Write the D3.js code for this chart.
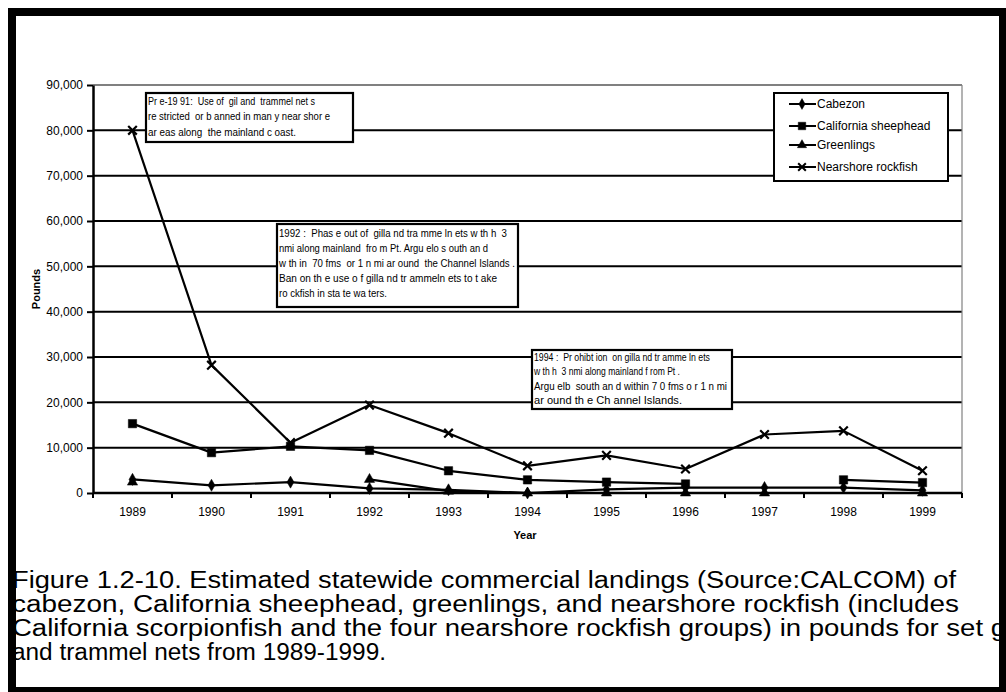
<!DOCTYPE html>
<html>
<head>
<meta charset="utf-8">
<script src="https://cdn.jsdelivr.net/npm/d3@7"></script>
<style>
  html, body { margin: 0; padding: 0; background: #fff; }
  svg { display: block; font-family: "Liberation Sans", Arial, sans-serif; }
</style>
</head>
<body>
<svg id="chart" width="1006" height="692"></svg>
<script>
// ---------------- DATA ----------------
const years = ["1989","1990","1991","1992","1993","1994","1995","1996","1997","1998","1999"];
const cabezon    = [3000, 1700, 2400, 1000, 700, 0, 800, 1200, 1200, 1200, 600];
const sheephead  = [15300, 8900, 10300, 9400, 4900, 2900, 2400, 2000, null, 2900, 2300];
const greenlings = [2400, null, null, 3000, 400, 0, 0, 0, 0, null, 0];
const rockfish   = [80000, 28200, 11100, 19400, 13200, 6000, 8300, 5300, 12900, 13700, 4900];
const seriesNames = ["Cabezon", "California sheephead", "Greenlings", "Nearshore rockfish"];
const yTicks = [0, 10000, 20000, 30000, 40000, 50000, 60000, 70000, 80000, 90000];
const note1 = ["Pr e-19 91:  Use of  gil and  trammel net s",
               "re stricted  or b anned in man y near shor e",
               "ar eas along  the mainland c oast."];
const note2 = ["1992 :  Phas e out of  gilla nd tra mme ln ets w th h  3",
               "nmi along mainland  fro m Pt. Argu elo s outh an d",
               "w th in  70 fms  or 1 n mi ar ound  the Channel Islands .",
               "Ban on th e use o f gilla nd tr ammeln ets to t ake",
               "ro ckfish in sta te wa ters."];
const note3 = ["1994 :  Pr ohibt ion  on gilla nd tr amme ln ets",
               "w th h  3 nmi along mainland f rom Pt .",
               "Argu elb  south an d within 7 0 fms o r 1 n mi",
               "ar ound th e Ch annel Islands."];
const caption = ["Figure 1.2-10. Estimated statewide commercial landings (Source:CALCOM) of",
                 "cabezon, California sheephead, greenlings, and nearshore rockfish (includes",
                 "California scorpionfish and the four nearshore rockfish groups) in pounds for set g",
                 "and trammel nets from 1989-1999."];

// ---------------- LAYOUT ----------------
const svg = d3.select("#chart");
const L = 93, R = 962, T = 85, B = 493;
const x = d3.scaleBand().domain(years).range([L, R]).padding(0);
const cx = d => x(d) + x.bandwidth() / 2;
const y = d3.scaleLinear().domain([0, 90000]).range([B, T]);

// gridlines
svg.append("g").selectAll("line").data(yTicks.filter(v => v > 0)).join("line")
  .attr("x1", L).attr("x2", R)
  .attr("y1", d => y(d)).attr("y2", d => y(d))
  .attr("stroke", d => d === 90000 ? "#808080" : "#000")
  .attr("stroke-width", 2);
// right plot border (grey)
svg.append("line").attr("x1", R).attr("x2", R).attr("y1", T).attr("y2", B)
  .attr("stroke", "#808080").attr("stroke-width", 1.2);

// y axis
const yAxis = svg.append("g").attr("transform", `translate(${L},0)`)
  .call(d3.axisLeft(y).tickValues(yTicks).tickFormat(d3.format(",")).tickSize(6).tickSizeOuter(0).tickPadding(4));
yAxis.select(".domain").attr("stroke-width", 2.5);
yAxis.selectAll(".tick line").attr("stroke-width", 2);
yAxis.selectAll("text").attr("font-size", 12).attr("font-family", "Liberation Sans, Arial, sans-serif").attr("fill", "#000");

// x axis
const xAxis = svg.append("g").attr("transform", `translate(0,${B})`)
  .call(d3.axisBottom(x).tickSize(0).tickPadding(14));
xAxis.select(".domain").remove();
xAxis.selectAll("text").attr("font-size", 12).attr("font-family", "Liberation Sans, Arial, sans-serif").attr("fill", "#000");
svg.append("line").attr("x1", L).attr("x2", R).attr("y1", B).attr("y2", B)
  .attr("stroke", "#000").attr("stroke-width", 2.5);
svg.append("g").selectAll("line").data(years.concat(["end"])).join("line")
  .attr("x1", (d, i) => L + i * x.bandwidth()).attr("x2", (d, i) => L + i * x.bandwidth())
  .attr("y1", B).attr("y2", B + 5).attr("stroke", "#000").attr("stroke-width", 2);

// axis titles
svg.append("text").attr("x", 525).attr("y", 539).attr("text-anchor", "middle")
  .attr("font-size", 11).attr("font-weight", "bold").text("Year");
svg.append("text").attr("transform", "translate(40,289) rotate(-90)").attr("text-anchor", "middle")
  .attr("font-size", 11).attr("font-weight", "bold").text("Pounds");

// ---------------- SERIES ----------------
const series = [
  { name: seriesNames[0], values: cabezon,    sym: d3.symbolDiamond,  size: 42, stroke: false },
  { name: seriesNames[1], values: sheephead,  sym: d3.symbolSquare,   size: 70, stroke: false },
  { name: seriesNames[2], values: greenlings, sym: d3.symbolTriangle, size: 46, stroke: false },
  { name: seriesNames[3], values: rockfish,   sym: d3.symbolX,        size: 50, stroke: true }
];
const line = d3.line().defined(d => d.v != null).x(d => cx(d.yr)).y(d => y(d.v));
series.forEach(s => {
  const pts = years.map((yr, i) => ({ yr, v: s.values[i] }));
  svg.append("path").datum(pts).attr("d", line)
    .attr("fill", "none").attr("stroke", "#000").attr("stroke-width", 2.2).attr("stroke-linejoin", "round");
  svg.append("g").selectAll("path").data(pts.filter(d => d.v != null)).join("path")
    .attr("transform", d => `translate(${cx(d.yr)},${y(d.v)})`)
    .attr("d", d3.symbol().type(s.sym).size(s.size))
    .attr("fill", s.stroke ? "none" : "#000")
    .attr("stroke", "#000").attr("stroke-width", s.stroke ? 2.2 : 0.5);
});

// ---------------- LEGEND ----------------
const lg = svg.append("g");
lg.append("rect").attr("x", 774).attr("y", 93).attr("width", 174).attr("height", 88)
  .attr("fill", "#fff").attr("stroke", "#000").attr("stroke-width", 2);
const legY = [104, 126, 145, 167];
series.forEach((s, i) => {
  const yy = legY[i];
  lg.append("line").attr("x1", 789).attr("x2", 816).attr("y1", yy).attr("y2", yy)
    .attr("stroke", "#000").attr("stroke-width", 2);
  lg.append("path").attr("transform", `translate(802,${yy})`)
    .attr("d", d3.symbol().type(s.sym).size(s.size * 0.8))
    .attr("fill", s.stroke ? "none" : "#000").attr("stroke", "#000").attr("stroke-width", s.stroke ? 2 : 0.5);
  lg.append("text").attr("x", 817).attr("y", yy + 4).attr("font-size", 12).text(s.name);
});

// ---------------- NOTES ----------------
function note(lines, bx, by, bw, bh, tx, baselines, widths) {
  const g = svg.append("g");
  g.append("rect").attr("x", bx).attr("y", by).attr("width", bw).attr("height", bh)
    .attr("fill", "#fff").attr("stroke", "#000").attr("stroke-width", 2.2);
  lines.forEach((t, i) => {
    g.append("text").attr("x", tx).attr("y", baselines[i]).attr("font-size", 10)
      .style("white-space", "pre").attr("textLength", widths[i]).attr("lengthAdjust", "spacingAndGlyphs").text(t);
  });
}
note(note1, 146, 93, 207, 49, 148, [104.5, 119.5, 135.5], [167, 182, 148]);
note(note2, 277, 224, 241, 83, 279, [236.5, 251.5, 266.5, 281.5, 296.5], [228, 209, 236, 218, 108]);
note(note3, 532, 350, 200, 59, 534, [360.5, 374.5, 389.5, 403.5], [176, 146, 193, 148]);

// ---------------- CAPTION ----------------
const capBase = [588, 612, 636, 660];
const capW = [944, 947, 994, 374];
caption.forEach((t, i) => {
  svg.append("text").attr("x", 12).attr("y", capBase[i]).attr("font-size", 23)
    .attr("textLength", capW[i]).attr("lengthAdjust", "spacingAndGlyphs").text(t);
});

// ---------------- FRAME ----------------
const frame = svg.append("g").attr("fill", "#000");
frame.append("rect").attr("x", 8).attr("y", 8).attr("width", 998).attr("height", 8);
frame.append("rect").attr("x", 8).attr("y", 8).attr("width", 8).attr("height", 684);
frame.append("rect").attr("x", 999).attr("y", 8).attr("width", 7).attr("height", 684);
frame.append("rect").attr("x", 8).attr("y", 687).attr("width", 998).attr("height", 5);
</script>
</body>
</html>
